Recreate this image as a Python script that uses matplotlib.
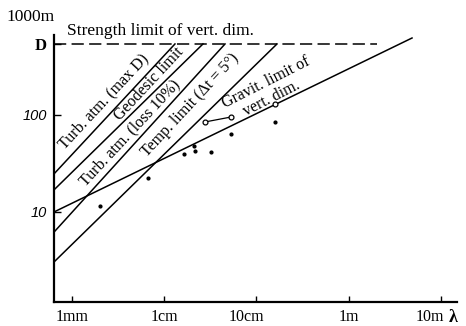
import matplotlib
matplotlib.use("Agg")
import matplotlib.pyplot as plt
from matplotlib.transforms import ScaledTranslation

# ---------------------------- data ----------------------------
# wavelength in metres, vertical dimension in metres
D = 540.0
x_lim = (6.3e-4, 15.1)
y_lim = (1.18, 1000.0)

# straight limit lines, two end points each
line_names = ["Turb. atm. (max D)", "Geodesic limit",
              "Turb. atm. (loss 10%)", "Temp. limit (\u0394t = 5\u00b0)"]
line_x = [(6.3e-4, 0.0130), (6.3e-4, 0.0262), (6.3e-4, 0.0455), (6.3e-4, 0.167)]
line_y = [(24.7, D), (16.9, D), (6.2, D), (3.05, D)]

grav_x = [6.3e-4, 4.9]
grav_y = [10.0, 622.0]

dash_x = [6.3e-4, 2.04]
dash_y = [D, D]

# measured telescopes
dot_x = [1.99e-3, 6.62e-3, 0.0163, 0.0210, 0.0215, 0.0320, 0.0528, 0.159]
dot_y = [11.5, 22.4, 39.6, 47.9, 42.5, 41.6, 63.7, 84.7]

circ_x = [0.0275, 0.0528, 0.159]
circ_y = [84.7, 95.3, 130.0]

x_ticks = [1e-3, 1e-2, 1e-1, 1.0, 10.0]
x_labels = ["1mm", "1cm", "10cm", "1m", "10m"]
y_ticks = [10.0, 100.0, D]
y_labels = ["10", "100", "D"]

# --------------------------- figure ---------------------------
W, H = 466, 326
fig = plt.figure(figsize=(W / 100, H / 100), dpi=100)
ax = fig.add_axes([54 / W, 1 - 302 / H, (457 - 54) / W, (302 - 18) / H])

serif = "Liberation Serif"

ax.set_xscale("log")
ax.set_yscale("log")
ax.set_xlim(*x_lim)
ax.set_ylim(*y_lim)

for s in ("top", "right"):
    ax.spines[s].set_visible(False)
ax.spines["left"].set_linewidth(1.6)
ax.spines["bottom"].set_linewidth(1.6)
ax.spines["left"].set_bounds(y_lim[0], 670)

lw = 1.1
for xs, ys in zip(line_x, line_y):
    ax.plot(xs, ys, color="black", lw=lw)
ax.plot(grav_x, grav_y, color="black", lw=lw)
ax.plot(dash_x, dash_y, color="black", lw=1.1, dashes=(8, 3.5))

ax.plot(dot_x, dot_y, "o", color="black", ms=2)
ax.plot(circ_x[:2], circ_y[:2], color="black", lw=0.9)
ax.plot(circ_x, circ_y, "o", mfc="white", mec="black", mew=0.9, ms=3.5)

ax.minorticks_off()
ax.set_xticks(x_ticks)
ax.set_xticklabels(x_labels, fontfamily=serif, fontsize=11.5)
ax.set_yticks(y_ticks)
ax.set_yticklabels(y_labels)
ax.tick_params(axis="x", direction="in", length=4, width=1, pad=5)
ax.tick_params(axis="y", direction="in", length=5, width=1, pad=5)
for lab in ax.get_yticklabels():
    if lab.get_text() == "D":
        lab.set_fontfamily(serif)
        lab.set_fontweight("bold")
        lab.set_fontsize(12)
    else:
        lab.set_fontfamily("Liberation Sans")
        lab.set_fontstyle("italic")
        lab.set_fontsize(10.5)

# the printed 10cm and 10m labels sit a little left of their ticks
shift = {"10cm": -10, "10m": -11}
for lab in ax.get_xticklabels():
    dx = shift.get(lab.get_text())
    if dx:
        lab.set_transform(lab.get_transform() +
                          ScaledTranslation(dx / 100, 0, fig.dpi_scale_trans))


def px_text(px, py, s, rot, size=11.5):
    fig.text(px / W, 1 - py / H, s, rotation=rot, rotation_mode="anchor",
             ha="center", va="center", fontfamily=serif, fontsize=size)


# line labels, sitting on top of their lines
px_text(104, 101, line_names[0], 47)
px_text(149, 84, line_names[1], 47)
px_text(130, 133, line_names[2], 47)
px_text(190, 105, line_names[3], 47)
px_text(266, 83, "Gravit. limit of", 27)
px_text(272, 98, "vert. dim.", 27)

fig.text(67 / W, 1 - 31 / H, "Strength limit of vert. dim.", ha="left",
         va="center", fontfamily=serif, fontsize=12.5)
fig.text(31 / W, 1 - 17 / H, "1000m", ha="center", va="center",
         fontfamily=serif, fontsize=12.5)
fig.text(453 / W, 1 - 317 / H, "\u03bb", ha="center", va="center",
         fontfamily=serif, fontsize=13, fontweight="bold")

fig.savefig("out.png", dpi=100)
